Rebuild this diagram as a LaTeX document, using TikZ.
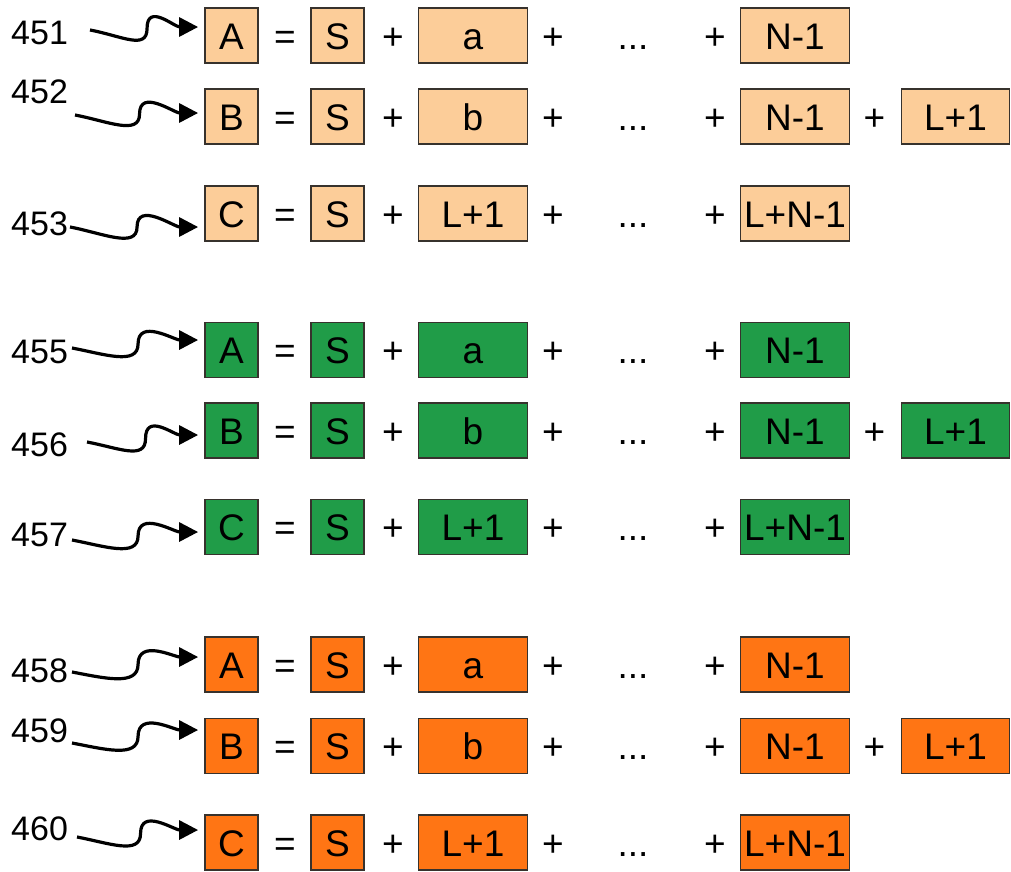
\documentclass[tikz,border=0pt]{standalone}
\usepackage{fontspec}
\setmainfont{Liberation Sans}
\usetikzlibrary{positioning, arrows.meta, calc}

\definecolor{peach}{RGB}{252,205,153}
\definecolor{leaf}{RGB}{32,156,72}
\definecolor{tangerine}{RGB}{255,117,20}
\definecolor{rim}{RGB}{55,50,45}

\begin{document}
\begin{tikzpicture}[x=1pt, y=1pt, node distance=80pt, on grid,
    cell/.style={inner sep=0pt, minimum height=55pt, text height=27pt, text depth=0pt,
                 font=\fontsize{37}{37}\selectfont},
    box/.style={cell, draw=rim, line width=1.8pt},
    sq/.style={box, minimum width=53pt},
    wide/.style={box, minimum width=109pt},
    tag/.style={anchor=west, inner sep=0pt, font=\fontsize{34}{34}\selectfont},
    wiggle/.style={-{Triangle[length=19pt,width=19pt]}, line width=3.2pt, shorten >=6pt}]
    \useasboundingbox (0,0) rectangle (1011,-871);

    % Define rows
    \foreach \r/\cy/\ly/\sx/\sy/\dy/\lab/\lhs/\mtxt/\rtxt/\col in {
        1/35.5/33/90/30/8.5/451/A/a/N-1/peach,
        2/116.5/92/75/115/3.5/452/B/b/N-1/peach,
        3/213.5/224/70/227/-13.5/453/C/L+1/L+N-1/peach,
        4/350/352/72/348/10/455/A/a/N-1/leaf,
        5/430.5/445/87/442/-4.5/456/B/b/N-1/leaf,
        6/527/535/72/540/-5/457/C/L+1/L+N-1/leaf,
        7/664.5/671/72/672/7.5/458/A/a/N-1/tangerine,
        8/746/731/72/743/16/459/B/b/N-1/tangerine,
        9/842.5/829/77/837/12.5/460/C/L+1/L+N-1/tangerine}
    {
        \node[tag] (t\r) at (11,-\ly) {\lab};
        \node[sq, fill=\col] (x\r) at (231.5,-\cy) {\lhs};
        \node[cell] (eq\r) [right=53.5pt of x\r] {=};
        \node[sq, fill=\col] (s\r) [right=52.5pt of eq\r] {S};
        \node[cell] (pa\r) [right=55.5pt of s\r] {+};
        \node[wide, fill=\col] (m\r) [right=of pa\r] {\mtxt};
        \node[cell] (pb\r) [right=of m\r] {+};
        \node[cell] (dots\r) [right=of pb\r] {...};
        \node[cell] (pc\r) [right=82pt of dots\r] {+};
        \node[wide, fill=\col] (n\r) [right=of pc\r] {\rtxt};

        % squiggly pointer from the number to the row
        \coordinate (w\r) at (\sx,-\sy);
        \draw[wiggle] (w\r) .. controls +(32,-6) and +(0,-22) .. ($(w\r)!.5!([yshift=\dy pt]x\r.west)$)
                            .. controls +(0,26) and +(-30,0) .. ([yshift=\dy pt]x\r.west);
    }

    % the B rows carry one more term
    \foreach \r/\col in {2/peach, 5/leaf, 8/tangerine}
    {
        \node[cell] (pd\r) [right=79.5pt of n\r] {+};
        \node[wide, minimum width=108pt, fill=\col] (e\r) [right=81pt of pd\r] {L+1};
    }
\end{tikzpicture}
\end{document}
